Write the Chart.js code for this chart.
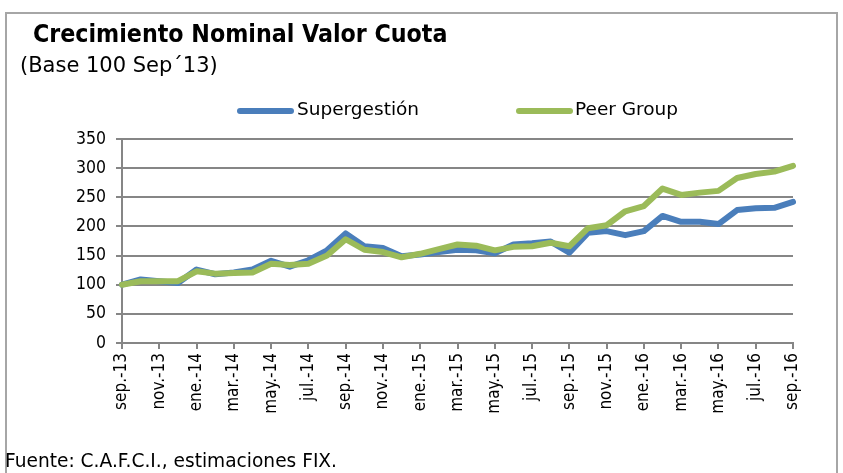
<!DOCTYPE html>
<html>
<head>
<meta charset="utf-8">
<script src="https://cdn.jsdelivr.net/npm/chart.js@4/dist/chart.umd.min.js"></script>
<style>
  html,body{margin:0;padding:0;background:#fff;}
  #wrap{position:relative;width:843px;height:473px;overflow:hidden;font-family:"DejaVu Sans",sans-serif;color:#000;}
  #frame{position:absolute;left:5px;top:12px;width:833px;height:480px;border:2px solid #a6a6a6;box-sizing:border-box;}
  #title{position:absolute;left:33px;top:19px;font-family:"DejaVu Sans Condensed",sans-serif;font-size:24.7px;font-weight:bold;white-space:nowrap;}
  #sub{position:absolute;left:20px;top:53px;font-size:21px;white-space:nowrap;}
  .li{position:absolute;top:98px;font-size:18.5px;white-space:nowrap;}
  .sw{position:absolute;top:108px;width:57px;height:6px;border-radius:3px;}
  #foot{position:absolute;left:5px;top:450px;font-size:18.6px;white-space:nowrap;}
  canvas{position:absolute;left:0;top:0;}
</style>
</head>
<body>
<div id="wrap">
  <div id="frame"></div>
  <canvas id="c" width="843" height="473"></canvas>
  <div id="title">Crecimiento Nominal Valor Cuota</div>
  <div id="sub">(Base 100 Sep´13)</div>
  <div class="sw" style="left:237px;background:#4a7ebb"></div>
  <div class="li" style="left:297px">Supergestión</div>
  <div class="sw" style="left:516px;background:#9bbb59"></div>
  <div class="li" style="left:575px">Peer Group</div>
  <div id="foot">Fuente: C.A.F.C.I., estimaciones FIX.</div>
</div>
<script>
const months = ["sep.-13","oct.-13","nov.-13","dic.-13","ene.-14","feb.-14","mar.-14","abr.-14","may.-14","jun.-14","jul.-14","ago.-14",
  "sep.-14","oct.-14","nov.-14","dic.-14","ene.-15","feb.-15","mar.-15","abr.-15","may.-15","jun.-15","jul.-15","ago.-15",
  "sep.-15","oct.-15","nov.-15","dic.-15","ene.-16","feb.-16","mar.-16","abr.-16","may.-16","jun.-16","jul.-16","ago.-16","sep.-16"];
const supergestion = [100,109,106,103,126,118,121,126,141,131,142,159,188,166,163,149,152,156,160,159,154,169,171,174,155,189,192,185,192,218,208,208,204,228,231,232,242];
const peerGroup = [100,106,106,106,123,119,120,121,136,134,136,150,178,160,156,147,153,161,169,167,159,165,166,172,166,197,202,226,235,265,254,258,261,283,290,294,304];
const yTicks = [0,50,100,150,200,250,300,350];

const FONT = "'DejaVu Sans Condensed',sans-serif";
new Chart(document.getElementById('c'), {
  type: 'line',
  data: {
    labels: months,
    datasets: [
      {label:'Supergestión', data: supergestion, borderColor:'#4a7ebb', borderWidth:6, pointRadius:0, tension:0, order:1, borderCapStyle:'round', borderJoinStyle:'round'},
      {label:'Peer Group', data: peerGroup, borderColor:'#9bbb59', borderWidth:6, pointRadius:0, tension:0, order:0, borderCapStyle:'round', borderJoinStyle:'round'}
    ]
  },
  options: {
    responsive:false, animation:false,
    layout:{padding:{left:62,top:139,right:50,bottom:30}},
    plugins:{legend:{display:false}, tooltip:{enabled:false}},
    scales:{
      x:{
        offset:false,
        afterFit:(s)=>{s.height=100;},
        border:{color:'#868686',width:2},
        grid:{drawOnChartArea:false, drawTicks:true, tickLength:6, lineWidth:2,
              color:(ctx)=> (ctx.index%2===0 ? '#868686' : 'rgba(0,0,0,0)')},
        ticks:{autoSkip:false, maxRotation:90, minRotation:90, color:'#000', padding:4,
               font:{family:FONT, size:17},
               callback:function(v,i){return i%2===0 ? months[i] : '';}}
      },
      y:{
        min:0, max:350,
        afterFit:(s)=>{s.width=60;},
        afterBuildTicks:(s)=>{s.ticks = yTicks.map(v=>({value:v}));},
        border:{color:'#868686',width:2},
        grid:{color:'#868686', lineWidth:2, tickLength:6},
        ticks:{color:'#000', padding:10, font:{family:FONT, size:17.5}}
      }
    }
  }
});
</script>
</body>
</html>
